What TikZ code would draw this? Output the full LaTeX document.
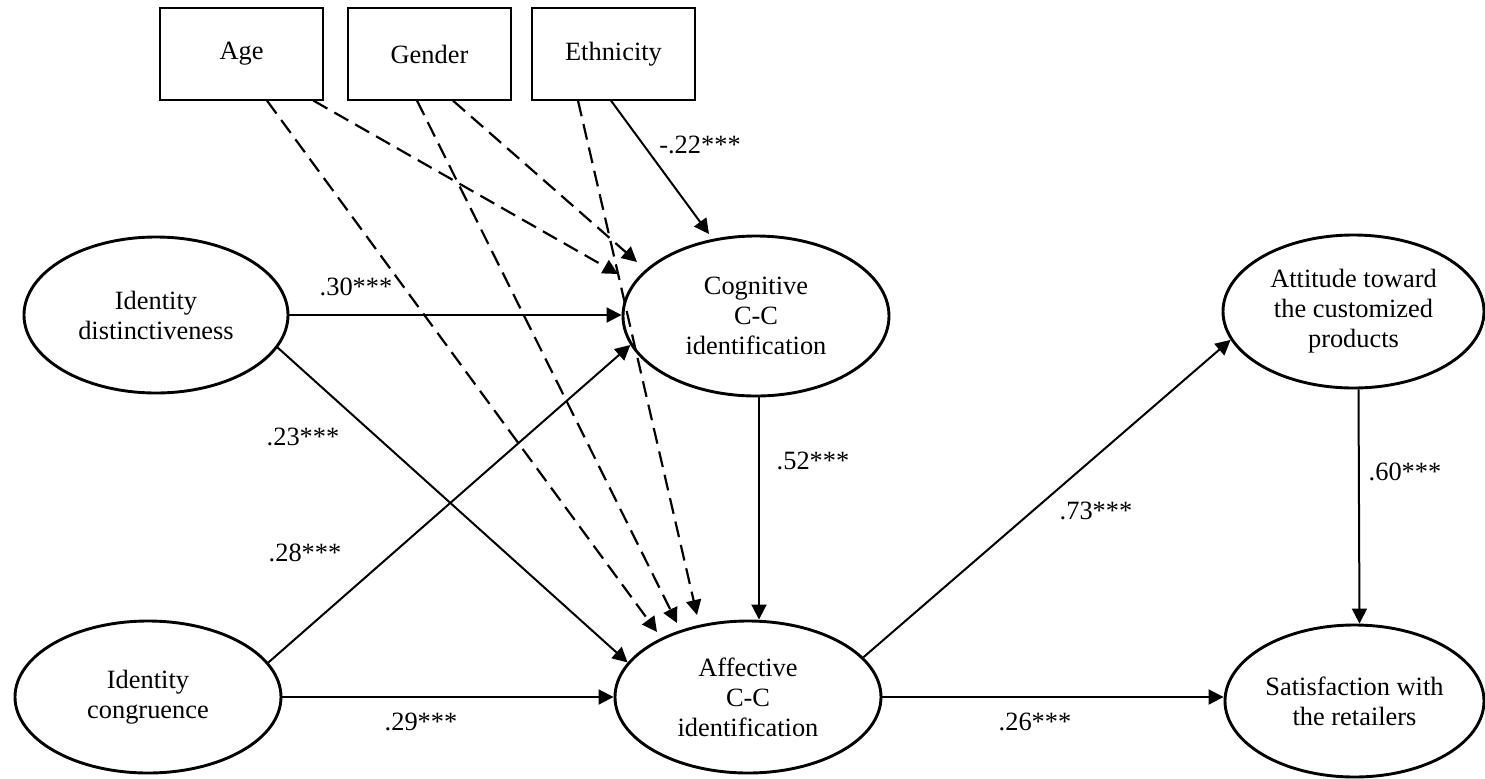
\documentclass[tikz,border=0pt]{standalone}
\usepackage{fontspec}
\setmainfont{Liberation Serif}
\usetikzlibrary{arrows.meta,calc,shapes.geometric}
\begin{document}
\begin{tikzpicture}[x=0.5pt,y=-0.5pt,
  every node/.style={font=\fontsize{13.2pt}{15pt}\selectfont},
  latent/.style={ellipse, draw, line width=1.45pt, align=center, inner sep=0pt},
  obs/.style={rectangle, draw, line width=0.65pt, minimum width=81.5pt, minimum height=46pt, inner sep=0pt},
  arr/.style={line width=1pt, -{Triangle[length=7.5pt,width=7.5pt]}},
  darr/.style={arr, line width=1.1pt, dash pattern=on 8pt off 4pt},
  lab/.style={inner sep=0pt}
]
\useasboundingbox (0,0) rectangle (1485,778);
% observed controls
\node[obs] (age) at (241.5,54) {Age};
\node[obs] (gender) at (429.5,54) {Gender};
\node[obs] (eth) at (613.5,54) {Ethnicity};
% latent constructs
\node[latent, minimum width=132pt, minimum height=78pt] (idd) at (156,315) {Identity\\distinctiveness};
\node[latent, minimum width=133pt, minimum height=76pt] (idc) at (148,697) {Identity\\congruence};
\node[latent, minimum width=133pt, minimum height=80pt] (cog) at (756,316) {Cognitive\\C-C\\identification};
\node[latent, minimum width=133pt, minimum height=76pt] (aff) at (748,697) {Affective\\C-C\\identification};
\node[latent, minimum width=130.5pt, minimum height=76.5pt] (att) at (1353.5,311.5) {Attitude toward\\the customized\\products};
\node[latent, minimum width=129.5pt, minimum height=76pt] (sat) at (1354.5,701) {Satisfaction with\\the retailers};
% free ends of the connectors that stop short of their targets
\coordinate (ac) at (618,274);
\coordinate (gc) at (637,262);
\coordinate (aa) at (657,632);
\coordinate (ga) at (677,623);
\coordinate (ea) at (697,615);
\coordinate (ec) at (709,234);
% dashed control effects
\draw[darr] ([xshift=36pt]age.south) -- (ac);
\draw[darr] ([xshift=12.75pt]age.south) -- (aa);
\draw[darr] ([xshift=11.75pt]gender.south) -- (gc);
\draw[darr] ([xshift=-6.25pt]gender.south) -- (ga);
\draw[darr] ([xshift=-17.75pt]eth.south) -- (ea);
% solid paths
\draw[arr] ([xshift=-1.25pt]eth.south) -- (ec);
\draw[arr] (idd.east) -- (idd.east -| cog.west);
\draw[arr] (idd.-15) -- (aff.164);
\draw[arr] (idc.16) -- (cog.193);
\draw[arr] (idc.east) -- (aff.west);
\draw[arr] ([xshift=1.5pt]cog.south) -- ([xshift=1.5pt]cog.south |- aff.north);
\draw[arr] (aff.19) -- (att.193);
\draw[arr] (aff.east) -- (aff.east -| sat.west);
\draw[arr] ([xshift=2.5pt]att.south) -- ([xshift=2.5pt]sat.north);
% coefficients
\node[lab] (l22) at (700,145) {-.22***};
\node[lab] (l30) at (356,287) {.30***};
\node[lab] (l23) at (303,437) {.23***};
\node[lab] (l28) at (305,553) {.28***};
\node[lab] (l29) at (421,722) {.29***};
\node[lab] (l52) at (813,461) {.52***};
\node[lab] (l73) at (1096,511) {.73***};
\node[lab] (l26) at (1035,722) {.26***};
\node[lab] (l60) at (1405,472) {.60***};
\end{tikzpicture}
\end{document}
